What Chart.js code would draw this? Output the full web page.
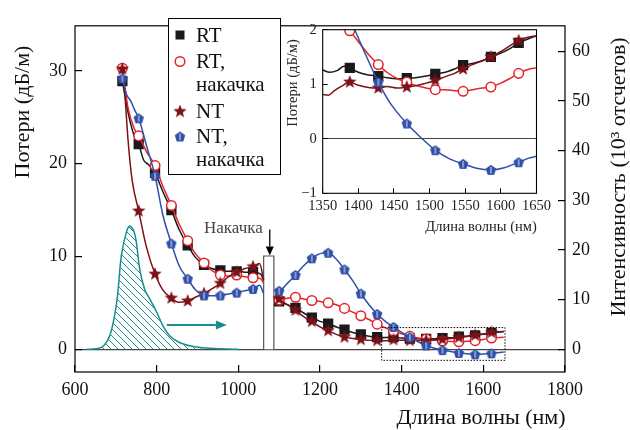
<!DOCTYPE html>
<html>
<head>
<meta charset="utf-8">
<script src="https://cdn.jsdelivr.net/npm/chart.js@4"></script>
<style>
  body { margin: 0; background: #fff; }
  #wrap { position: relative; width: 630px; height: 430px; }
  #main { position: absolute; left: 0; top: 0; }
  #inset { position: absolute; left: 270px; top: 10px; }
</style>
</head>
<body>
<div id="wrap">
  <canvas id="main" width="630" height="430"></canvas>
  <canvas id="inset" width="290" height="230"></canvas>
</div>
<script>
// ---- data (main plot, loss in dB/m vs wavelength in nm) ----
var xTicks = [600, 800, 1000, 1200, 1400, 1600, 1800];
var lossTicks = [0, 10, 20, 30];
var countTicks = [0, 10, 20, 30, 40, 50, 60];
var markWl = [716, 756, 796, 836, 876, 916, 956, 996, 1036, 1100, 1140, 1180, 1220, 1260, 1300, 1340, 1380, 1420, 1460, 1500, 1540, 1580, 1620];

var rtCurve = [[716,28.9],[730,25.5],[745,23.0],[756,22.1],[768,20.4],[780,19.9],[796,19.0],[815,17.0],[836,15.0],[855,12.9],[876,11.2],[895,9.9],[916,9.1],[935,8.7],[956,8.5],[976,8.4],[996,8.4],[1016,8.3],[1036,8.3],[1055,8.1],[1062,7.4],[1075,null],[1090,5.3],[1100,5.15],[1120,4.8],[1140,4.45],[1160,3.9],[1180,3.4],[1200,3.0],[1220,2.75],[1240,2.4],[1260,2.1],[1280,1.8],[1300,1.6],[1320,1.4],[1340,1.3],[1360,1.25],[1380,1.3],[1400,1.2],[1420,1.15],[1440,1.12],[1460,1.1],[1480,1.12],[1500,1.2],[1520,1.22],[1540,1.35],[1560,1.4],[1580,1.5],[1600,1.6],[1620,1.75],[1650,1.9]];
var rtPumpCurve = [[716,30.3],[730,26.0],[745,23.8],[756,23.0],[775,21.3],[796,19.8],[815,17.6],[836,15.5],[855,13.5],[876,11.7],[895,10.3],[916,9.3],[935,8.5],[956,8.0],[976,7.9],[996,8.0],[1016,7.8],[1036,7.7],[1055,7.6],[1062,7.1],[1075,null],[1090,5.5],[1100,5.3],[1120,5.5],[1140,5.6],[1160,5.4],[1180,5.25],[1200,5.15],[1220,5.0],[1240,4.8],[1260,4.4],[1280,4.0],[1300,3.6],[1320,3.2],[1340,2.7],[1360,2.3],[1380,1.95],[1400,1.65],[1420,1.4],[1440,1.2],[1460,1.08],[1480,0.98],[1500,0.88],[1520,0.84],[1540,0.8],[1560,0.85],[1580,0.92],[1600,1.05],[1620,1.2],[1650,1.3]];
var ntCurve = [[716,30.2],[722,27.5],[730,22.5],[740,18.2],[756,14.9],[775,11.0],[796,8.1],[815,6.4],[836,5.5],[855,5.05],[876,5.2],[895,5.6],[916,6.0],[935,6.5],[956,7.1],[976,7.8],[996,8.3],[1016,8.7],[1036,8.9],[1052,9.25],[1062,7.5],[1075,null],[1090,5.9],[1100,5.4],[1120,4.8],[1140,4.2],[1160,3.5],[1180,3.0],[1200,2.4],[1220,2.0],[1240,1.6],[1260,1.3],[1280,1.15],[1300,1.05],[1320,0.95],[1340,0.93],[1360,0.9],[1380,1.03],[1400,0.97],[1420,0.93],[1440,0.95],[1460,0.95],[1480,0.98],[1500,1.07],[1520,1.15],[1540,1.27],[1560,1.38],[1580,1.5],[1600,1.65],[1620,1.8],[1650,1.9]];
var ntPumpCurve = [[716,29.2],[726,27.5],[736,26.8],[746,25.8],[756,24.9],[776,21.8],[796,18.7],[815,14.5],[836,11.4],[855,9.0],[876,7.6],[895,6.4],[916,5.8],[935,5.75],[956,5.8],[976,5.95],[996,6.1],[1016,6.3],[1036,6.5],[1052,6.9],[1062,6.0],[1075,null],[1090,6.4],[1100,6.3],[1120,7.1],[1140,8.0],[1160,9.0],[1180,9.8],[1200,10.3],[1220,10.4],[1240,9.7],[1260,8.6],[1280,7.4],[1300,6.0],[1320,4.8],[1340,3.8],[1360,3.0],[1380,2.4],[1400,1.8],[1420,1.3],[1440,0.8],[1460,0.4],[1480,0.1],[1500,-0.1],[1520,-0.25],[1540,-0.4],[1560,-0.48],[1580,-0.55],[1600,-0.52],[1620,-0.45],[1650,-0.3]];

// emission spectrum, 10^3 counts (right axis)
var emisWl = [629, 650, 669, 686, 702, 714, 727, 735, 747, 759, 771, 784, 800, 816, 833, 857, 890, 931, 1000];
var emisVal = [0, 0.1, 0.6, 2.9, 9.4, 19.1, 23.9, 24.8, 23.0, 15.9, 12.0, 10.0, 7.5, 4.6, 2.6, 1.3, 0.55, 0.2, 0];

// pump line (bar), arrows and zoom box
var pumpBarWl = [1062, 1062, 1087, 1087];
var pumpBarLoss = [0, 10.05, 10.05, 0];
var pumpArrowWl = 1077, pumpArrowLoss = [12.9, 10.1];
var emisArrowWl = [825, 972], emisArrowLoss = 2.6;
var zoomBoxWl = [1351, 1653], zoomBoxLoss = [-1.2, 2.33];

// ---- data (inset) ----
var insetXTicks = [1350, 1400, 1450, 1500, 1550, 1600, 1650];
var insetYTicks = [-1, 0, 1, 2];
var insetMarkWl = [1388, 1428, 1468, 1508, 1547, 1586, 1625];
var insetRt = [[1350,1.26],[1360,1.22],[1370,1.25],[1380,1.33],[1388,1.3],[1400,1.22],[1414,1.17],[1428,1.15],[1440,1.12],[1455,1.1],[1468,1.11],[1480,1.12],[1495,1.15],[1508,1.19],[1522,1.22],[1535,1.28],[1547,1.35],[1560,1.38],[1574,1.43],[1586,1.5],[1600,1.57],[1612,1.65],[1625,1.76],[1638,1.83],[1650,1.89]];
var insetRtPump = [[1374,2.15],[1388,1.98],[1400,1.78],[1414,1.55],[1428,1.36],[1440,1.22],[1455,1.1],[1468,1.04],[1480,0.98],[1495,0.93],[1508,0.9],[1522,0.9],[1535,0.88],[1547,0.87],[1560,0.9],[1574,0.93],[1586,0.95],[1600,1.02],[1612,1.1],[1625,1.2],[1638,1.27],[1650,1.3]];
var insetNt = [[1350,0.81],[1358,0.8],[1366,0.88],[1376,0.96],[1388,1.04],[1400,0.98],[1414,0.94],[1428,0.93],[1440,0.96],[1455,0.93],[1468,0.95],[1480,0.97],[1495,1.02],[1508,1.07],[1522,1.14],[1535,1.2],[1547,1.28],[1560,1.36],[1574,1.43],[1586,1.5],[1600,1.6],[1612,1.7],[1625,1.8],[1638,1.86],[1650,1.89]];
var insetNtPump = [[1380,2.45],[1395,2.0],[1410,1.55],[1428,1.04],[1445,0.65],[1468,0.28],[1488,0.02],[1508,-0.21],[1528,-0.37],[1547,-0.46],[1566,-0.54],[1586,-0.57],[1605,-0.53],[1625,-0.43],[1638,-0.36],[1650,-0.32]];

var SERIF = '"Liberation Serif", "DejaVu Serif", serif';
var BLACK = '#1a1a1a', RED = '#e5232b', DARKRED = '#7c1117', BLUE = '#3050a8', TEAL = '#168f8c';

// ---- marker images ----
function starImg(color, size) {
  var c = document.createElement('canvas'); c.width = c.height = size;
  var g = c.getContext('2d'), R = size / 2, r = R * 0.42;
  g.beginPath();
  for (var i = 0; i < 10; i++) {
    var a = -Math.PI / 2 + i * Math.PI / 5, rr = i % 2 ? r : R;
    g.lineTo(size / 2 + rr * Math.cos(a), size / 2 + rr * Math.sin(a));
  }
  g.closePath(); g.fillStyle = color; g.fill();
  return c;
}
function pentImg(color, size) {
  var c = document.createElement('canvas'); c.width = c.height = size;
  var g = c.getContext('2d'), r = size / 2 - 0.5;
  g.beginPath();
  for (var i = 0; i < 5; i++) {
    var a = -Math.PI / 2 + i * 2 * Math.PI / 5;
    g.lineTo(size / 2 + r * Math.cos(a), size / 2 + r * Math.sin(a) + 0.5);
  }
  g.closePath(); g.fillStyle = color; g.fill();
  g.strokeStyle = 'rgba(255,255,255,0.85)'; g.lineWidth = 1;
  g.beginPath(); g.moveTo(size / 2, size * 0.25); g.lineTo(size / 2, size * 0.8); g.stroke();
  return c;
}
var STAR = starImg(DARKRED, 14), PENT = pentImg(BLUE, 12);

function hatch(color) {
  var s = 7, c = document.createElement('canvas'); c.width = c.height = s;
  var g = c.getContext('2d');
  g.strokeStyle = color; g.lineWidth = 1;
  g.beginPath();
  g.moveTo(0, 0); g.lineTo(s, s);
  g.moveTo(-1, s - 1); g.lineTo(1, s + 1);
  g.moveTo(s - 1, -1); g.lineTo(s + 1, 1);
  g.stroke();
  return g.createPattern(c, 'repeat');
}

function pts(arr) { return arr.map(function (p) { return { x: p[0], y: p[1] }; }); }
function marker(list, r) {
  return function (c) { return c.raw && list.indexOf(c.raw.x) >= 0 ? r : 0; };
}
function series(label, arr, list, color, style, r, bg, yId) {
  return {
    label: label, data: pts(arr), yAxisID: yId || 'y',
    borderColor: color, borderWidth: 1.5, cubicInterpolationMode: 'monotone',
    pointStyle: style, pointRadius: marker(list, r), pointBorderWidth: 1.5,
    pointBackgroundColor: bg, pointBorderColor: color, spanGaps: false
  };
}
function fixTicks(list) { return function (s) { s.ticks = list.map(function (v) { return { value: v }; }); }; }
function zeroLine(c) { return c.tick && c.tick.value === 0 ? '#444' : 'rgba(0,0,0,0)'; }
function plain(v) { return v < 0 ? '\u2212' + Math.abs(v) : String(v); }

function arrow(g, x1, y1, x2, y2, len, half) {
  var a = Math.atan2(y2 - y1, x2 - x1);
  g.beginPath(); g.moveTo(x1, y1);
  g.lineTo(x2 - len * Math.cos(a), y2 - len * Math.sin(a)); g.stroke();
  g.beginPath(); g.moveTo(x2, y2);
  g.lineTo(x2 - len * Math.cos(a) - half * Math.sin(a), y2 - len * Math.sin(a) + half * Math.cos(a));
  g.lineTo(x2 - len * Math.cos(a) + half * Math.sin(a), y2 - len * Math.sin(a) - half * Math.cos(a));
  g.closePath(); g.fill();
}
function vText(g, text, x, y) {
  g.save(); g.translate(x, y); g.rotate(-Math.PI / 2);
  g.textAlign = 'center'; g.textBaseline = 'middle'; g.fillText(text, 0, 0);
  g.restore();
}

// ---- main chart ----
var mainExtras = {
  id: 'mainExtras',
  afterDraw: function (chart) {
    var g = chart.ctx, a = chart.chartArea, x = chart.scales.x, y = chart.scales.y;
    g.save();
    g.strokeStyle = '#000'; g.lineWidth = 1.2;
    g.strokeRect(a.left, a.top, a.right - a.left, a.bottom - a.top);

    // dotted box marking the inset range
    g.setLineDash([1.5, 1.5]); g.lineWidth = 1;
    var bx0 = x.getPixelForValue(zoomBoxWl[0]), bx1 = x.getPixelForValue(zoomBoxWl[1]);
    var by0 = y.getPixelForValue(zoomBoxLoss[1]), by1 = y.getPixelForValue(zoomBoxLoss[0]);
    g.strokeRect(bx0, by0, bx1 - bx0, by1 - by0);
    g.setLineDash([]);

    // pump arrow + label
    g.fillStyle = '#000'; g.strokeStyle = '#000'; g.lineWidth = 1.3;
    var px = x.getPixelForValue(pumpArrowWl);
    arrow(g, px, y.getPixelForValue(pumpArrowLoss[0]), px, y.getPixelForValue(pumpArrowLoss[1]), 9, 4);
    g.fillStyle = '#444'; g.font = '17px ' + SERIF; g.textAlign = 'right'; g.textBaseline = 'middle';
    g.fillText('Накачка', px - 7, y.getPixelForValue(pumpArrowLoss[0]) - 1);

    // emission arrow
    g.fillStyle = TEAL; g.strokeStyle = TEAL; g.lineWidth = 2;
    var ay = y.getPixelForValue(emisArrowLoss);
    arrow(g, x.getPixelForValue(emisArrowWl[0]), ay, x.getPixelForValue(emisArrowWl[1]), ay, 11, 4.5);

    // legend
    g.fillStyle = '#fff'; g.fillRect(168, 18, 112, 156);
    g.strokeStyle = '#000'; g.lineWidth = 1; g.strokeRect(168.5, 18.5, 112, 156);
    g.fillStyle = BLACK; g.fillRect(175.5, 30.5, 9, 9);
    g.strokeStyle = RED; g.lineWidth = 1.5; g.fillStyle = '#fff';
    g.beginPath(); g.arc(180, 61.5, 4.8, 0, 2 * Math.PI); g.fill(); g.stroke();
    g.drawImage(STAR, 173, 104.5);
    g.drawImage(PENT, 174, 130.5);
    g.fillStyle = '#111'; g.font = '21px ' + SERIF; g.textAlign = 'left'; g.textBaseline = 'middle';
    g.fillText('RT', 196, 36);
    g.fillText('RT,', 196, 62);
    g.fillText('накачка', 196, 85);
    g.fillText('NT', 196, 112);
    g.fillText('NT,', 196, 137);
    g.fillText('накачка', 196, 160);

    // axis titles
    g.fillStyle = '#111'; g.font = '22px ' + SERIF;
    vText(g, 'Потери (дБ/м)', 23, 112);
    vText(g, 'Интенсивность (10³ отсчетов)', 619, 177);
    g.textAlign = 'center'; g.textBaseline = 'middle';
    g.fillText('Длина волны (нм)', 481, 418);
    g.restore();
  }
};

var tickFont = { family: SERIF, size: 18 };
new Chart(document.getElementById('main'), {
  type: 'line',
  data: {
    datasets: [
      series('NT, накачка', ntPumpCurve, markWl, BLUE, PENT, 6, BLUE),
      series('NT', ntCurve, markWl, DARKRED, STAR, 7, DARKRED),
      series('RT, накачка', rtPumpCurve, markWl, RED, 'circle', 4.8, '#fff'),
      series('RT', rtCurve, markWl, BLACK, 'rect', 6.2, BLACK),
      {
        label: 'emission', yAxisID: 'y2',
        data: emisWl.map(function (w, i) { return { x: w, y: emisVal[i] }; }),
        borderColor: TEAL, borderWidth: 1.5, pointRadius: 0, tension: 0.4,
        fill: 'origin', backgroundColor: hatch(TEAL)
      },
      {
        label: 'pump', yAxisID: 'y',
        data: pumpBarWl.map(function (w, i) { return { x: w, y: pumpBarLoss[i] }; }),
        borderColor: '#555', borderWidth: 1.2, pointRadius: 0, tension: 0,
        fill: 'origin', backgroundColor: '#fff'
      }
    ]
  },
  options: {
    responsive: false, animation: false,
    layout: { padding: { top: 12, left: 0, right: 0, bottom: 0 } },
    plugins: { legend: { display: false }, tooltip: { enabled: false } },
    scales: {
      x: {
        type: 'linear', min: 600, max: 1800, position: 'bottom',
        afterBuildTicks: fixTicks(xTicks),
        afterFit: function (s) { s.height = 58; },
        border: { display: false },
        grid: { drawOnChartArea: false, tickLength: -7, tickColor: '#000', lineWidth: 1.2 },
        ticks: { padding: 14, color: '#111', font: tickFont, maxRotation: 0, autoSkip: false, callback: plain }
      },
      y: {
        type: 'linear', min: -2.46, max: 34.87, position: 'left',
        afterBuildTicks: fixTicks(lossTicks),
        afterFit: function (s) { s.width = 75; },
        border: { display: false },
        grid: { color: zeroLine, tickLength: -7, tickColor: '#000', lineWidth: 1.2 },
        ticks: { padding: 15, color: '#111', font: tickFont, callback: plain }
      },
      y2: {
        type: 'linear', min: -4.59, max: 65.17, position: 'right',
        afterBuildTicks: fixTicks(countTicks),
        afterFit: function (s) { s.width = 65; },
        border: { display: false },
        grid: { drawOnChartArea: false, tickLength: -7, tickColor: '#000', lineWidth: 1.2 },
        ticks: { padding: 14, color: '#111', font: tickFont, callback: plain }
      }
    }
  },
  plugins: [mainExtras]
});

// ---- inset chart ----
var insetExtras = {
  id: 'insetExtras',
  afterDraw: function (chart) {
    var g = chart.ctx, a = chart.chartArea;
    g.save();
    g.strokeStyle = '#000'; g.lineWidth = 1.1;
    g.strokeRect(a.left, a.top, a.right - a.left, a.bottom - a.top);
    g.fillStyle = '#222'; g.font = '14.5px ' + SERIF;
    vText(g, 'Потери (дБ/м)', 23, 73);
    g.textAlign = 'center'; g.textBaseline = 'middle';
    g.fillText('Длина волны (нм)', 211, 217);
    g.restore();
  }
};
var insetFont = { family: SERIF, size: 14.5 };
new Chart(document.getElementById('inset'), {
  type: 'line',
  data: {
    datasets: [
      series('NT, накачка', insetNtPump, insetMarkWl, BLUE, PENT, 6, BLUE),
      series('NT', insetNt, insetMarkWl, DARKRED, STAR, 7, DARKRED),
      series('RT, накачка', insetRtPump, insetMarkWl, RED, 'circle', 4.8, '#fff'),
      series('RT', insetRt, insetMarkWl, BLACK, 'rect', 6.2, BLACK)
    ]
  },
  options: {
    responsive: false, animation: false,
    layout: { padding: { top: 19, left: 0, right: 14, bottom: 0 } },
    plugins: { legend: { display: false }, tooltip: { enabled: false } },
    scales: {
      x: {
        type: 'linear', min: 1350, max: 1650,
        afterBuildTicks: fixTicks(insetXTicks),
        afterFit: function (s) { s.height = 46.7; },
        border: { display: false },
        grid: { drawOnChartArea: false, tickLength: -5, tickColor: '#000' },
        ticks: { padding: 9, color: '#222', font: insetFont, maxRotation: 0, autoSkip: false, callback: plain }
      },
      y: {
        type: 'linear', min: -1, max: 2,
        afterBuildTicks: fixTicks(insetYTicks),
        afterFit: function (s) { s.width = 52.7; },
        border: { display: false },
        grid: { color: zeroLine, tickLength: -5, tickColor: '#000' },
        ticks: { padding: 11, color: '#222', font: insetFont, callback: plain }
      }
    }
  },
  plugins: [insetExtras]
});
</script>
</body>
</html>
